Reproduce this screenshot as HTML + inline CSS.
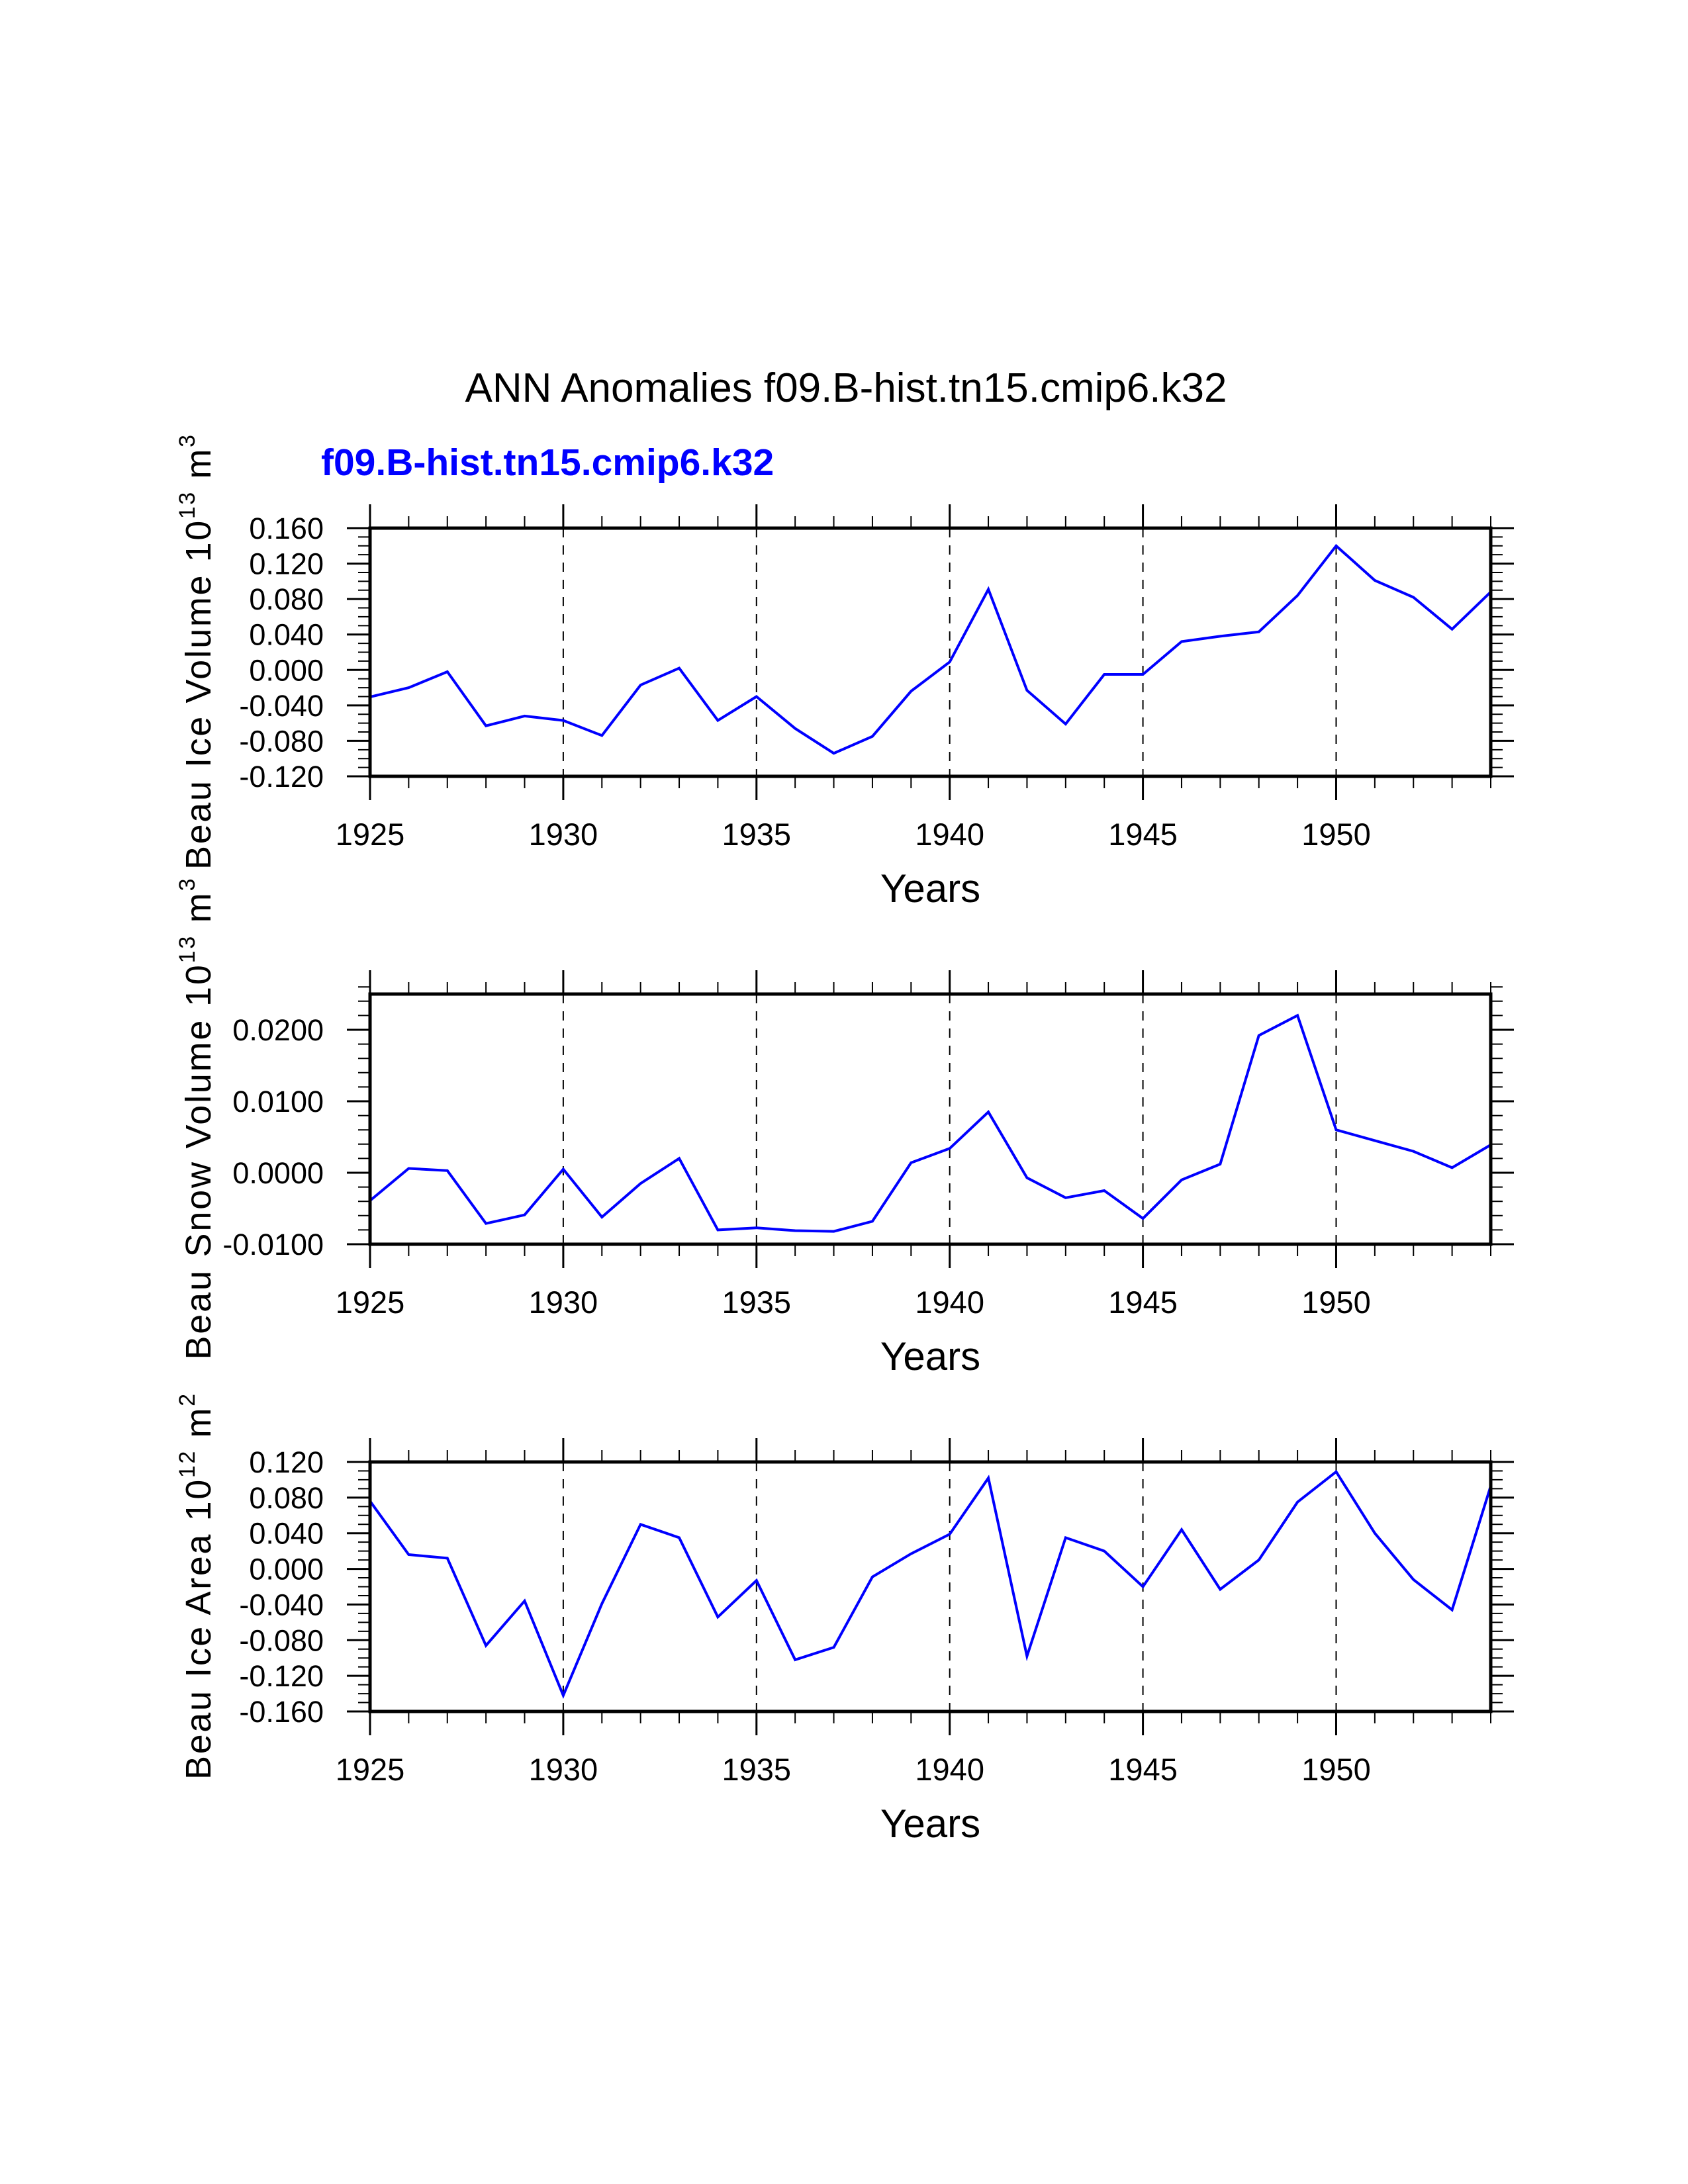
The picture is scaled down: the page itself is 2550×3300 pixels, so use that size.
<!DOCTYPE html>
<html><head><meta charset="utf-8"><style>
html,body{margin:0;padding:0;background:#fff}
svg{display:block}
text{font-family:"Liberation Sans",sans-serif}
</style></head><body>
<svg id="fig" width="2550" height="3300" viewBox="0 0 2550 3300" xmlns="http://www.w3.org/2000/svg">
<rect width="2550" height="3300" fill="#fff"/>
<text x="1278" y="607" font-size="62" text-anchor="middle" fill="#000">ANN Anomalies f09.B-hist.tn15.cmip6.k32</text>
<text x="485" y="718" font-size="57" font-weight="bold" fill="#0000ff">f09.B-hist.tn15.cmip6.k32</text>
<g id="panels"></g>
</svg>
<script>
const years = [1925,1926,1927,1928,1929,1930,1931,1932,1933,1934,1935,1936,1937,1938,1939,1940,1941,1942,1943,1944,1945,1946,1947,1948,1949,1950,1951,1952,1953,1954];
const xTickLabels = ["1925","1930","1935","1940","1945","1950"];
const iceVolume = [-0.0305,-0.020,-0.002,-0.063,-0.052,-0.057,-0.074,-0.017,0.002,-0.057,-0.030,-0.066,-0.094,-0.075,-0.024,0.009,0.091,-0.023,-0.061,-0.005,-0.005,0.032,0.038,0.043,0.084,0.140,0.101,0.082,0.046,0.088];
const snowVolume = [-0.0039,0.0006,0.0003,-0.0071,-0.0059,0.0005,-0.0062,-0.0015,0.0020,-0.0080,-0.0077,-0.0081,-0.0082,-0.0068,0.0014,0.0034,0.0085,-0.0007,-0.0035,-0.0025,-0.0064,-0.0010,0.0012,0.0192,0.0220,0.0060,0.0045,0.0030,0.0007,0.0039];
const iceArea = [0.076,0.016,0.012,-0.086,-0.036,-0.142,-0.039,0.050,0.035,-0.054,-0.013,-0.102,-0.088,-0.009,0.017,0.039,0.102,-0.098,0.035,0.020,-0.020,0.044,-0.023,0.010,0.075,0.109,0.040,-0.012,-0.046,0.093];
const iceVolumeTicks = ["0.160","0.120","0.080","0.040","0.000","-0.040","-0.080","-0.120"];
const snowVolumeTicks = ["0.0200","0.0100","0.0000","-0.0100"];
const iceAreaTicks = ["0.120","0.080","0.040","0.000","-0.040","-0.080","-0.120","-0.160"];

const NS="http://www.w3.org/2000/svg";
const root=document.getElementById('panels');
function mk(tag,attrs,parent){const e=document.createElementNS(NS,tag);for(const k in attrs)e.setAttribute(k,attrs[k]);(parent||root).appendChild(e);return e;}

const X0=559,X1=2252;
function xScale(yr){return X0+(yr-1925)/(1954-1925)*(X1-X0);}

const panels=[
 {name:'ice-volume',top:798,bot:1173,ymin:-0.12,ymax:0.16,major:0.04,minor:0.01,ticks:iceVolumeTicks,data:iceVolume,title:['Beau Ice Volume 10','13',' m','3'],tlen:657},
 {name:'snow-volume',top:1502,bot:1880,ymin:-0.01,ymax:0.025,major:0.01,minor:0.002,ticks:snowVolumeTicks,data:snowVolume,title:['Beau Snow Volume 10','13',' m','3'],tlen:727},
 {name:'ice-area',top:2209,bot:2586,ymin:-0.16,ymax:0.12,major:0.04,minor:0.01,ticks:iceAreaTicks,data:iceArea,title:['Beau Ice Area 10','12',' m','2'],tlen:583}
];

panels.forEach(p=>{
 const g=mk('g',{});
 
 
 const yS=v=>p.bot-(v-p.ymin)/(p.ymax-p.ymin)*(p.bot-p.top);
 for(let yr=1930;yr<=1950;yr+=5){
  const l=mk('line',{x1:xScale(yr),x2:xScale(yr),y1:p.top,y2:p.bot,stroke:'#000','stroke-width':2,'stroke-dasharray':'14,12'},g);
  
  
 }
 years.forEach(yr=>{
  const maj=(yr%5===0);const len=maj?36:18;const x=xScale(yr);
  mk('line',{x1:x,x2:x,y1:p.bot,y2:p.bot+len,stroke:'#000','stroke-width':maj?3:2},g);
  mk('line',{x1:x,x2:x,y1:p.top,y2:p.top-len,stroke:'#000','stroke-width':maj?3:2},g);
 });
 xTickLabels.forEach(s=>{
  const t=mk('text',{x:xScale(+s),y:p.bot+104,'font-size':47,'text-anchor':'middle'},g);
  t.textContent=s;
  
  
 });
 const nMin=Math.round((p.ymax-p.ymin)/p.minor);
 const ratio=Math.round(p.major/p.minor);
 for(let i=0;i<=nMin;i++){
  const v=p.ymin+i*p.minor;const y=yS(v);
  const maj=(i%ratio===0);const len=maj?35:18;
  mk('line',{x1:X0,x2:X0-len,y1:y,y2:y,stroke:'#000','stroke-width':maj?3:2},g);
  mk('line',{x1:X1,x2:X1+len,y1:y,y2:y,stroke:'#000','stroke-width':maj?3:2},g);
 }
 p.ticks.forEach(s=>{
  const t=mk('text',{x:489,y:yS(parseFloat(s))+16,'font-size':45,'text-anchor':'end'},g);
  t.textContent=s;
  
  
 });
 const pts=p.data.map((v,i)=>xScale(years[i]).toFixed(1)+','+yS(v).toFixed(1)).join(' ');
 const pl=mk('polyline',{points:pts,fill:'none',stroke:'#0000ff','stroke-width':4,'stroke-linejoin':'miter'},g);
 
 
 const fr=mk('rect',{x:X0,y:p.top,width:X1-X0,height:p.bot-p.top,fill:'none',stroke:'#000','stroke-width':5},g);
 
 
 const xt=mk('text',{x:(X0+X1)/2,y:p.bot+190,'font-size':60,'text-anchor':'middle'},g);
 xt.textContent='Years';
 
 
 const cy=(p.top+p.bot)/2;
 const yt=mk('text',{x:0,y:0,'font-size':54,'text-anchor':'middle',transform:'translate(318,'+cy+') rotate(-90)',textLength:p.tlen,lengthAdjust:'spacing'},g);
 
 
 const a=mk('tspan',{},yt);a.textContent=p.title[0];
 const b=mk('tspan',{'font-size':34,dy:-24},yt);b.textContent=p.title[1];
 const c=mk('tspan',{dy:24},yt);c.textContent=p.title[2];
 const d=mk('tspan',{'font-size':34,dy:-24},yt);d.textContent=p.title[3];
});
</script>
</body></html>
